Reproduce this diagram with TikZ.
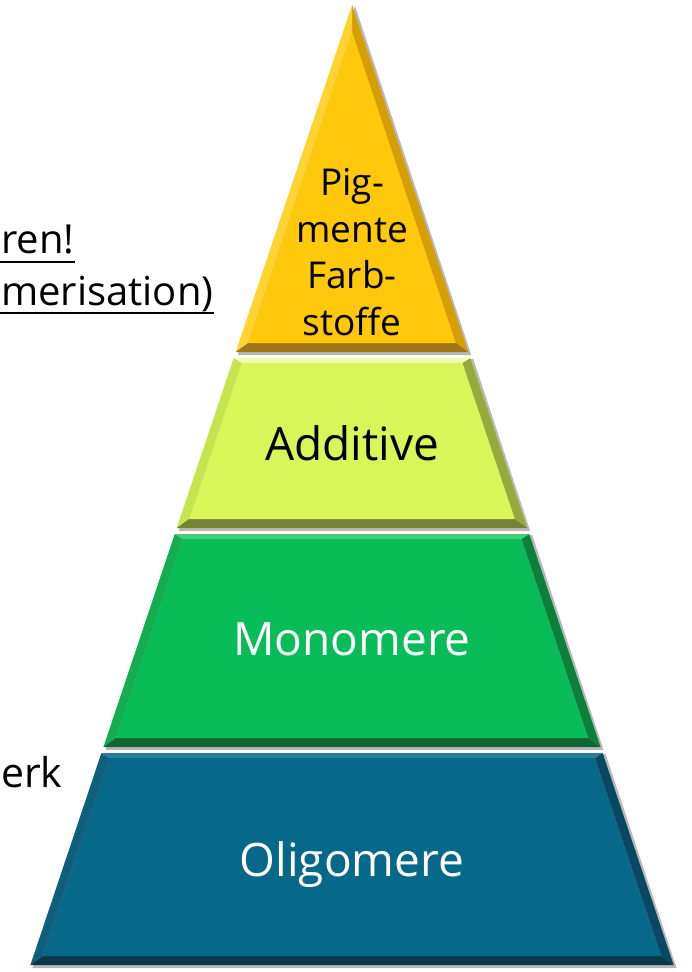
\documentclass[tikz,border=0pt]{standalone}
\usepackage{fontspec}
\setmainfont{Open Sans}
\usetikzlibrary{calc}
\definecolor{yMain}{RGB}{255,200,10}
\definecolor{yLeft}{RGB}{255,212,50}
\definecolor{yRight}{RGB}{214,158,0}
\definecolor{yBot}{RGB}{160,118,22}
\definecolor{yTop}{RGB}{255,215,60}
\definecolor{lgMain}{RGB}{216,246,88}
\definecolor{lgLeft}{RGB}{198,228,78}
\definecolor{lgRight}{RGB}{150,170,60}
\definecolor{lgBot}{RGB}{118,130,52}
\definecolor{lgTop}{RGB}{238,252,175}
\definecolor{gMain}{RGB}{8,188,88}
\definecolor{gLeft}{RGB}{22,172,80}
\definecolor{gRight}{RGB}{10,128,60}
\definecolor{gBot}{RGB}{15,102,50}
\definecolor{gTop}{RGB}{70,205,120}
\definecolor{bMain}{RGB}{6,105,138}
\definecolor{bLeft}{RGB}{14,94,124}
\definecolor{bRight}{RGB}{8,72,98}
\definecolor{bBot}{RGB}{10,55,75}
\definecolor{bTop}{RGB}{40,125,155}
% #1 ytop, #2 ybot, #3 top inset, #4 main, #5 left, #6 right, #7 bottom, #8 top
\newcommand\pyrlayer[8]{%
  \pgfmathsetmacro\pwt{(#1-5)*0.335}%
  \pgfmathsetmacro\pwb{(#2-5)*0.335}%
  \pgfmathsetmacro\pyi{#1+#3}%
  \pgfmathsetmacro\pyb{#2-9}%
  \pgfmathsetmacro\pwit{max(0,(\pyi-5)*0.335-9.5)}%
  \pgfmathsetmacro\pwib{(\pyb-5)*0.335-9.5}%
  \fill[black!28] (352-\pwt+3,#1+1) -- (352+\pwt+3,#1+1) -- (352+\pwb+3,#2+3) -- (352-\pwb+2,#2+3) -- cycle;
  \coordinate (OTL) at (352-\pwt,#1);
  \coordinate (OTR) at (352+\pwt,#1);
  \coordinate (OBR) at (352+\pwb,#2);
  \coordinate (OBL) at (352-\pwb,#2);
  \coordinate (ITL) at (352-\pwit,\pyi);
  \coordinate (ITR) at (352+\pwit,\pyi);
  \coordinate (IBR) at (352+\pwib,\pyb);
  \coordinate (IBL) at (352-\pwib,\pyb);
  \fill[#5] (OTL) -- (ITL) -- (IBL) -- (OBL) -- cycle;
  \fill[#6] (OTR) -- (OBR) -- (IBR) -- (ITR) -- cycle;
  \fill[#7] (OBL) -- (OBR) -- (IBR) -- (IBL) -- cycle;
  \fill[#8] (OTL) -- (OTR) -- (ITR) -- (ITL) -- cycle;
  \fill[#4] (ITL) -- (ITR) -- (IBR) -- (IBL) -- cycle;
}
\tikzset{
  lbl/.style={inner sep=0pt, font=\fontsize{46}{55}\selectfont},
  side/.style={inner sep=0pt, font=\fontsize{40}{48}\selectfont, text=black},
  uline/.style={line width=2.6pt, black}
}
\begin{document}
\begin{tikzpicture}[x=1pt,y=-1pt]
\useasboundingbox (0,0) rectangle (692,972);
\fill[white] (0,0) rectangle (692,972);
% pyramid layers
\pyrlayer{5}{352}{27}{yMain}{yLeft}{yRight}{yBot}{yTop}
\pyrlayer{358}{528}{5}{lgMain}{lgLeft}{lgRight}{lgBot}{lgTop}
\pyrlayer{534}{747}{5}{gMain}{gLeft}{gRight}{gBot}{gTop}
\pyrlayer{753}{965}{5}{bMain}{bLeft}{bRight}{bBot}{bTop}
% labels
\node[inner sep=0pt, align=center, font=\fontsize{37}{46.5}\selectfont, anchor=base] (pig) at (352,335) {Pig-\\mente\\Farb-\\stoffe};
\node[lbl, anchor=base] (add) at (352,460) {Additive};
\node[lbl, anchor=base, text=white] (mono) at (352,655) {Monomere};
\node[lbl, anchor=base, text=white] (oligo) at (352,876) {Oligomere};
% side texts
\node[side, anchor=base west] (t1) at (1,253) {ren!};
\node[side, anchor=base west] (t2) at (1,305) {merisation)};
\node[side, anchor=base west, font=\fontsize{41}{50}\selectfont] (t3) at (1,787) {erk};
\draw[uline] (0,262) -- (t1.base east |- 0,262);
\draw[uline] (0,313) -- (t2.base east |- 0,313);
\end{tikzpicture}
\end{document}
